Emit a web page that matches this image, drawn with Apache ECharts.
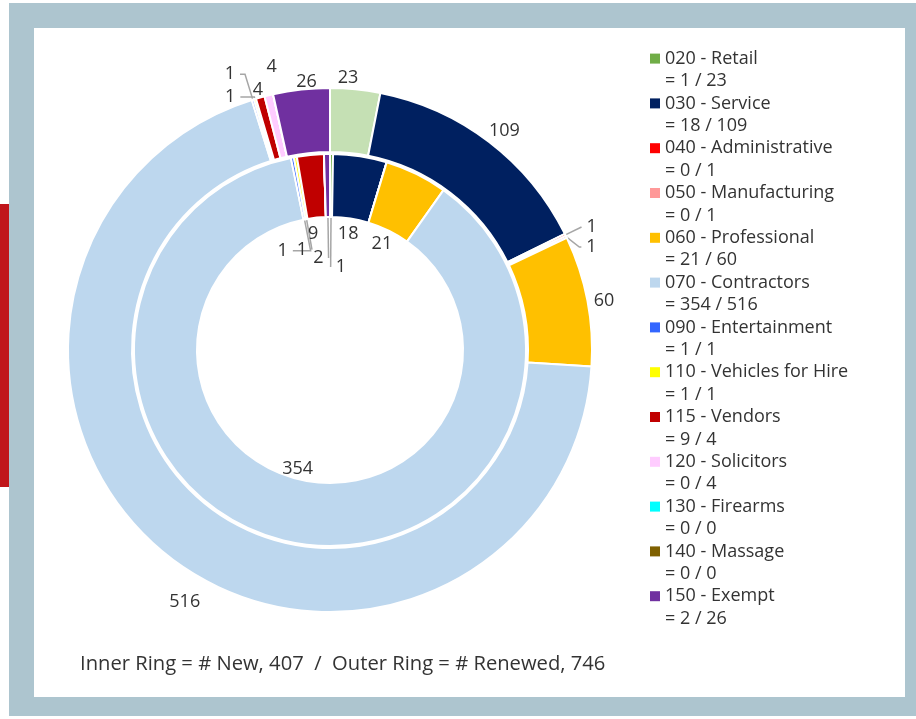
<!DOCTYPE html>
<html>
<head>
<meta charset="utf-8">
<script src="https://cdn.jsdelivr.net/npm/echarts@6/dist/echarts.min.js"></script>
<style>
  html, body { margin: 0; padding: 0; background: #ffffff; }
  #frame { position: absolute; left: 9px; top: 3px; width: 907px; height: 713px; background: #adc5cf; }
  #inner { position: absolute; left: 34px; top: 28px; width: 871px; height: 669px; background: #ffffff; }
  #redbar { position: absolute; left: 0; top: 204px; width: 9px; height: 283px; background: #c0161b; }
  #chart { position: absolute; left: 0; top: 0; width: 916px; height: 719px; }
</style>
</head>
<body>
<div id="frame"></div>
<div id="inner"></div>
<div id="redbar"></div>
<div id="chart"></div>
<script>
const categories = [
  '020 - Retail', '030 - Service', '040 - Administrative', '050 - Manufacturing',
  '060 - Professional', '070 - Contractors', '090 - Entertainment', '110 - Vehicles for Hire',
  '115 - Vendors', '120 - Solicitors', '130 - Firearms', '140 - Massage', '150 - Exempt'
];
const newCounts     = [1, 18, 0, 0, 21, 354, 1, 1, 9, 0, 0, 0, 2];
const renewedCounts = [23, 109, 1, 1, 60, 516, 1, 1, 4, 4, 0, 0, 26];
const legendColors = ['#70ad47', '#002060', '#ff0000', '#ff9999', '#ffc000', '#bdd7ee', '#3366ff',
                      '#ffff00', '#c00000', '#ffccff', '#00ffff', '#7f6000', '#7030a0'];
const outerColors  = ['#c5e0b4', '#002060', '#ff0000', '#ff9999', '#ffc000', '#bdd7ee', '#3366ff',
                      '#ffff00', '#c00000', '#ffccff', '#00ffff', '#7f6000', '#7030a0'];

const FONT = '"Open Sans", "Noto Sans", sans-serif';
const TXT = '#333333';
const CENTER = [330, 350];
const LINE = '#a6a6a6';
const sum = a => a.reduce((s, v) => s + v, 0);

// ---- hand-placed label layout (like moved data labels), keyed by category index ----
// labels sitting just outside the outer ring, without leader line
const outerBigNudge   = { 0: [-9, 6], 1: [5, 3], 4: [0, 3], 5: [27, 32], 12: [7, 9] };
// small outer labels on the left, with leader lines: [length, length2]
const outerLeftLines  = { 6: [26.5, 5], 7: [2, 14] };
// small outer labels without leader line, nudged
const outerLeftFree   = { 8: [10, 0], 9: [15, -20.5] };
// small outer labels on the right, with leader lines: [length, length2]
const outerRightLines = { 2: [18, 0], 3: [8, 2] };
// inner labels inside the hole, no line
const innerNudge      = { 1: [0, 0], 4: [0, 0], 5: [-8, 3], 8: [-5, 1] };
// inner labels with leader lines pointing back to the ring: [length, length2]
const innerLines      = { 6: [-49, 17.8], 7: [-48, 0], 12: [-58, 0], 0: [-67, 0] };

const nudge = table => p => {
  const n = table[p.dataIndex];
  return n ? { dx: n[0], dy: n[1] } : {};
};

const chart = echarts.init(document.getElementById('chart'), null, { renderer: 'canvas' });

const transparent = { color: 'rgba(0,0,0,0)', borderWidth: 0 };
const labelFont = { fontFamily: FONT, fontSize: 18, color: TXT };
const lineStyle = { color: LINE, width: 1.5 };

// angle side of each outer slice (computed from the data)
const totalRenewed = sum(renewedCounts);
let acc = 0;
const outerMidAngle = renewedCounts.map(v => { const m = (acc + v / 2) / totalRenewed * 360; acc += v; return m; });

const baseRing = (values, colors) => categories.map((c, i) => ({
  name: c, value: values[i], itemStyle: { color: colors[i] }
}));

const labelOnly = (values, pick) => categories.map((c, i) => {
  const cfg = pick(i, values[i]);
  const item = { name: c, value: values[i], label: { show: !!cfg }, labelLine: { show: false } };
  if (cfg && cfg.line) {
    item.labelLine = { show: true, length: cfg.line[0], length2: cfg.line[1] };
  }
  return item;
});

const common = {
  type: 'pie', center: CENTER, startAngle: 90, clockwise: true, silent: true,
  emphasis: { disabled: true }, legendHoverLink: false
};

const option = {
  animation: false,
  textStyle: { fontFamily: FONT },
  title: {
    text: `Inner Ring = # New, ${sum(newCounts)}  /  Outer Ring = # Renewed, ${totalRenewed}`,
    left: 75, top: 649,
    textStyle: { fontFamily: FONT, fontSize: 20.2, fontWeight: 'normal', color: TXT }
  },
  legend: {
    orient: 'vertical', left: 650, top: 25, padding: 0,
    itemWidth: 10, itemHeight: 10, itemGap: -22.4, icon: 'rect',
    itemStyle: { borderWidth: 0 },
    selectedMode: false,
    data: categories.map((c, i) => ({ name: c, itemStyle: { color: legendColors[i], borderWidth: 0 } })),
    formatter: name => {
      const i = categories.indexOf(name);
      return ' \n' + name + '\n= ' + newCounts[i] + ' / ' + renewedCounts[i];
    },
    textStyle: { fontFamily: FONT, fontSize: 18, lineHeight: 22.4, color: TXT }
  },
  series: [
    // outer ring (renewed)
    Object.assign({}, common, {
      name: 'Renewed', radius: [198, 262], legendHoverLink: true,
      itemStyle: { borderColor: '#ffffff', borderWidth: 2 },
      label: { show: false }, labelLine: { show: false },
      data: baseRing(renewedCounts, outerColors)
    }),
    // inner ring (new)
    Object.assign({}, common, {
      name: 'New', radius: [133, 196],
      itemStyle: { borderColor: '#ffffff', borderWidth: 2 },
      label: { show: false }, labelLine: { show: false },
      data: baseRing(newCounts, legendColors)
    }),
    // outer labels: larger values just outside the ring
    Object.assign({}, common, {
      name: 'RenewedBig', radius: [262, 290], itemStyle: transparent,
      label: Object.assign({ position: 'inside', formatter: '{c}' }, labelFont),
      labelLayout: nudge(outerBigNudge),
      data: labelOnly(renewedCounts, (i, v) => v > 4)
    }),
    // outer labels: small values on the left side
    Object.assign({}, common, {
      name: 'RenewedLeft', radius: [198, 262], itemStyle: transparent, avoidLabelOverlap: false,
      label: Object.assign({ position: 'outside', formatter: '{c}' }, labelFont),
      labelLine: { length: 8, length2: 0, lineStyle },
      labelLayout: nudge(outerLeftFree),
      data: labelOnly(renewedCounts, (i, v) =>
        v > 0 && v <= 4 && outerMidAngle[i] > 180 ? (outerLeftLines[i] ? { line: outerLeftLines[i] } : {}) : null)
    }),
    // outer labels: small values on the right side
    Object.assign({}, common, {
      name: 'RenewedRight', radius: [198, 262], itemStyle: transparent, avoidLabelOverlap: true,
      label: Object.assign({ position: 'outside', formatter: '{c}' }, labelFont),
      labelLine: { length: 8, length2: 2, lineStyle },
      data: labelOnly(renewedCounts, (i, v) =>
        v > 0 && v <= 4 && outerMidAngle[i] < 180 ? { line: outerRightLines[i] || [8, 2] } : null)
    }),
    // inner labels inside the hole
    Object.assign({}, common, {
      name: 'NewLabels', radius: [100, 130], itemStyle: transparent,
      label: Object.assign({ position: 'inside', formatter: '{c}' }, labelFont),
      labelLayout: nudge(innerNudge),
      data: labelOnly(newCounts, (i, v) => v > 0 && innerNudge[i] ? {} : null)
    }),
    // inner labels with leader lines
    Object.assign({}, common, {
      name: 'NewLined', radius: [0, 150], itemStyle: transparent, avoidLabelOverlap: false,
      label: Object.assign({ position: 'outside', formatter: '{c}' }, labelFont),
      labelLine: { length: -45, length2: 0, minTurnAngle: 0, maxSurfaceAngle: 180, lineStyle },
      data: labelOnly(newCounts, (i, v) => v > 0 && innerLines[i] ? { line: innerLines[i] } : null)
    })
  ]
};
chart.setOption(option);
</script>
</body>
</html>
